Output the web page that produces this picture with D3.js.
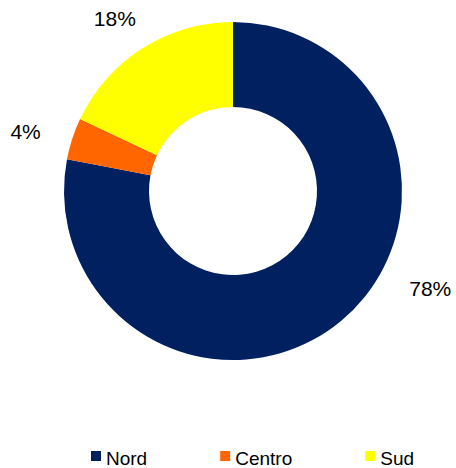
<!DOCTYPE html>
<html>
<head>
<meta charset="utf-8">
<script src="https://cdn.jsdelivr.net/npm/d3@7"></script>
<style>
  body { margin: 0; background: #fff; }
  svg text { font-family: "Liberation Sans", Arial, sans-serif; fill: #000; }
</style>
</head>
<body>
<svg id="chart" width="456" height="468"></svg>
<script>
// data
let regions = ['Nord', 'Centro', 'Sud'];
let shares  = [78, 4, 18];
let colors  = ['#002060', '#FF6600', '#FFFF00'];

const width  = 456,
      height = 468;
const cx = 233, cy = 191;
const outerR = 169, innerR = 84;

let svg = d3.select('#chart');
let g = svg.append('g').attr('transform', `translate(${cx},${cy})`);

let color = d3.scaleOrdinal().domain(regions).range(colors);

let pie = d3.pie()
  .sort(null)
  .value(d => d.value);

let data = regions.map((r, i) => ({ name: r, value: shares[i] }));
let arcs = pie(data);

let arc = d3.arc().innerRadius(innerR).outerRadius(outerR);

g.selectAll('path.slice')
  .data(arcs)
  .enter().append('path')
  .attr('class', 'slice')
  .attr('d', arc)
  .attr('fill', d => color(d.data.name));

// labels: box edge sits on a ring outside the donut (like excel best fit)
function isBig(d) { return d.endAngle - d.startAngle > Math.PI; }
function labelAngle(d) {
  if (isBig(d)) {
    return d.startAngle + (d.endAngle - d.startAngle) * 0.414;
  }
  return (d.startAngle + d.endAngle) / 2 - 2 * Math.PI / 180;
}

g.selectAll('text.lbl')
  .data(arcs)
  .enter().append('text')
  .attr('class', 'lbl')
  .attr('text-anchor', 'middle')
  .attr('dy', '0.36em')
  .style('font-size', '21px')
  .text(d => d3.format('.0f')(d.value) + '%')
  .each(function(d) {
    let a = labelAngle(d);
    let s = Math.sin(a), c = -Math.cos(a);
    let w = this.getComputedTextLength() / 2, h = 7.5;
    let extra = Math.min(w / Math.max(Math.abs(s), 1e-6), h / Math.max(Math.abs(c), 1e-6));
    let r = (isBig(d) ? 203 : 200) + extra;
    d3.select(this).attr('x', s * r).attr('y', c * r);
  });

// legend
let legend = svg.append('g').attr('transform', 'translate(91,451)');
let lx = 0;
regions.forEach((r, i) => {
  let item = legend.append('g').attr('transform', `translate(${lx},0)`);
  item.append('rect')
    .attr('width', 10).attr('height', 10)
    .attr('fill', color(r));
  let t = item.append('text')
    .attr('x', 15).attr('y', 14)
    .style('font-size', '19px')
    .text(r);
  lx += 15 + t.node().getComputedTextLength() + 73;
});
</script>
</body>
</html>
